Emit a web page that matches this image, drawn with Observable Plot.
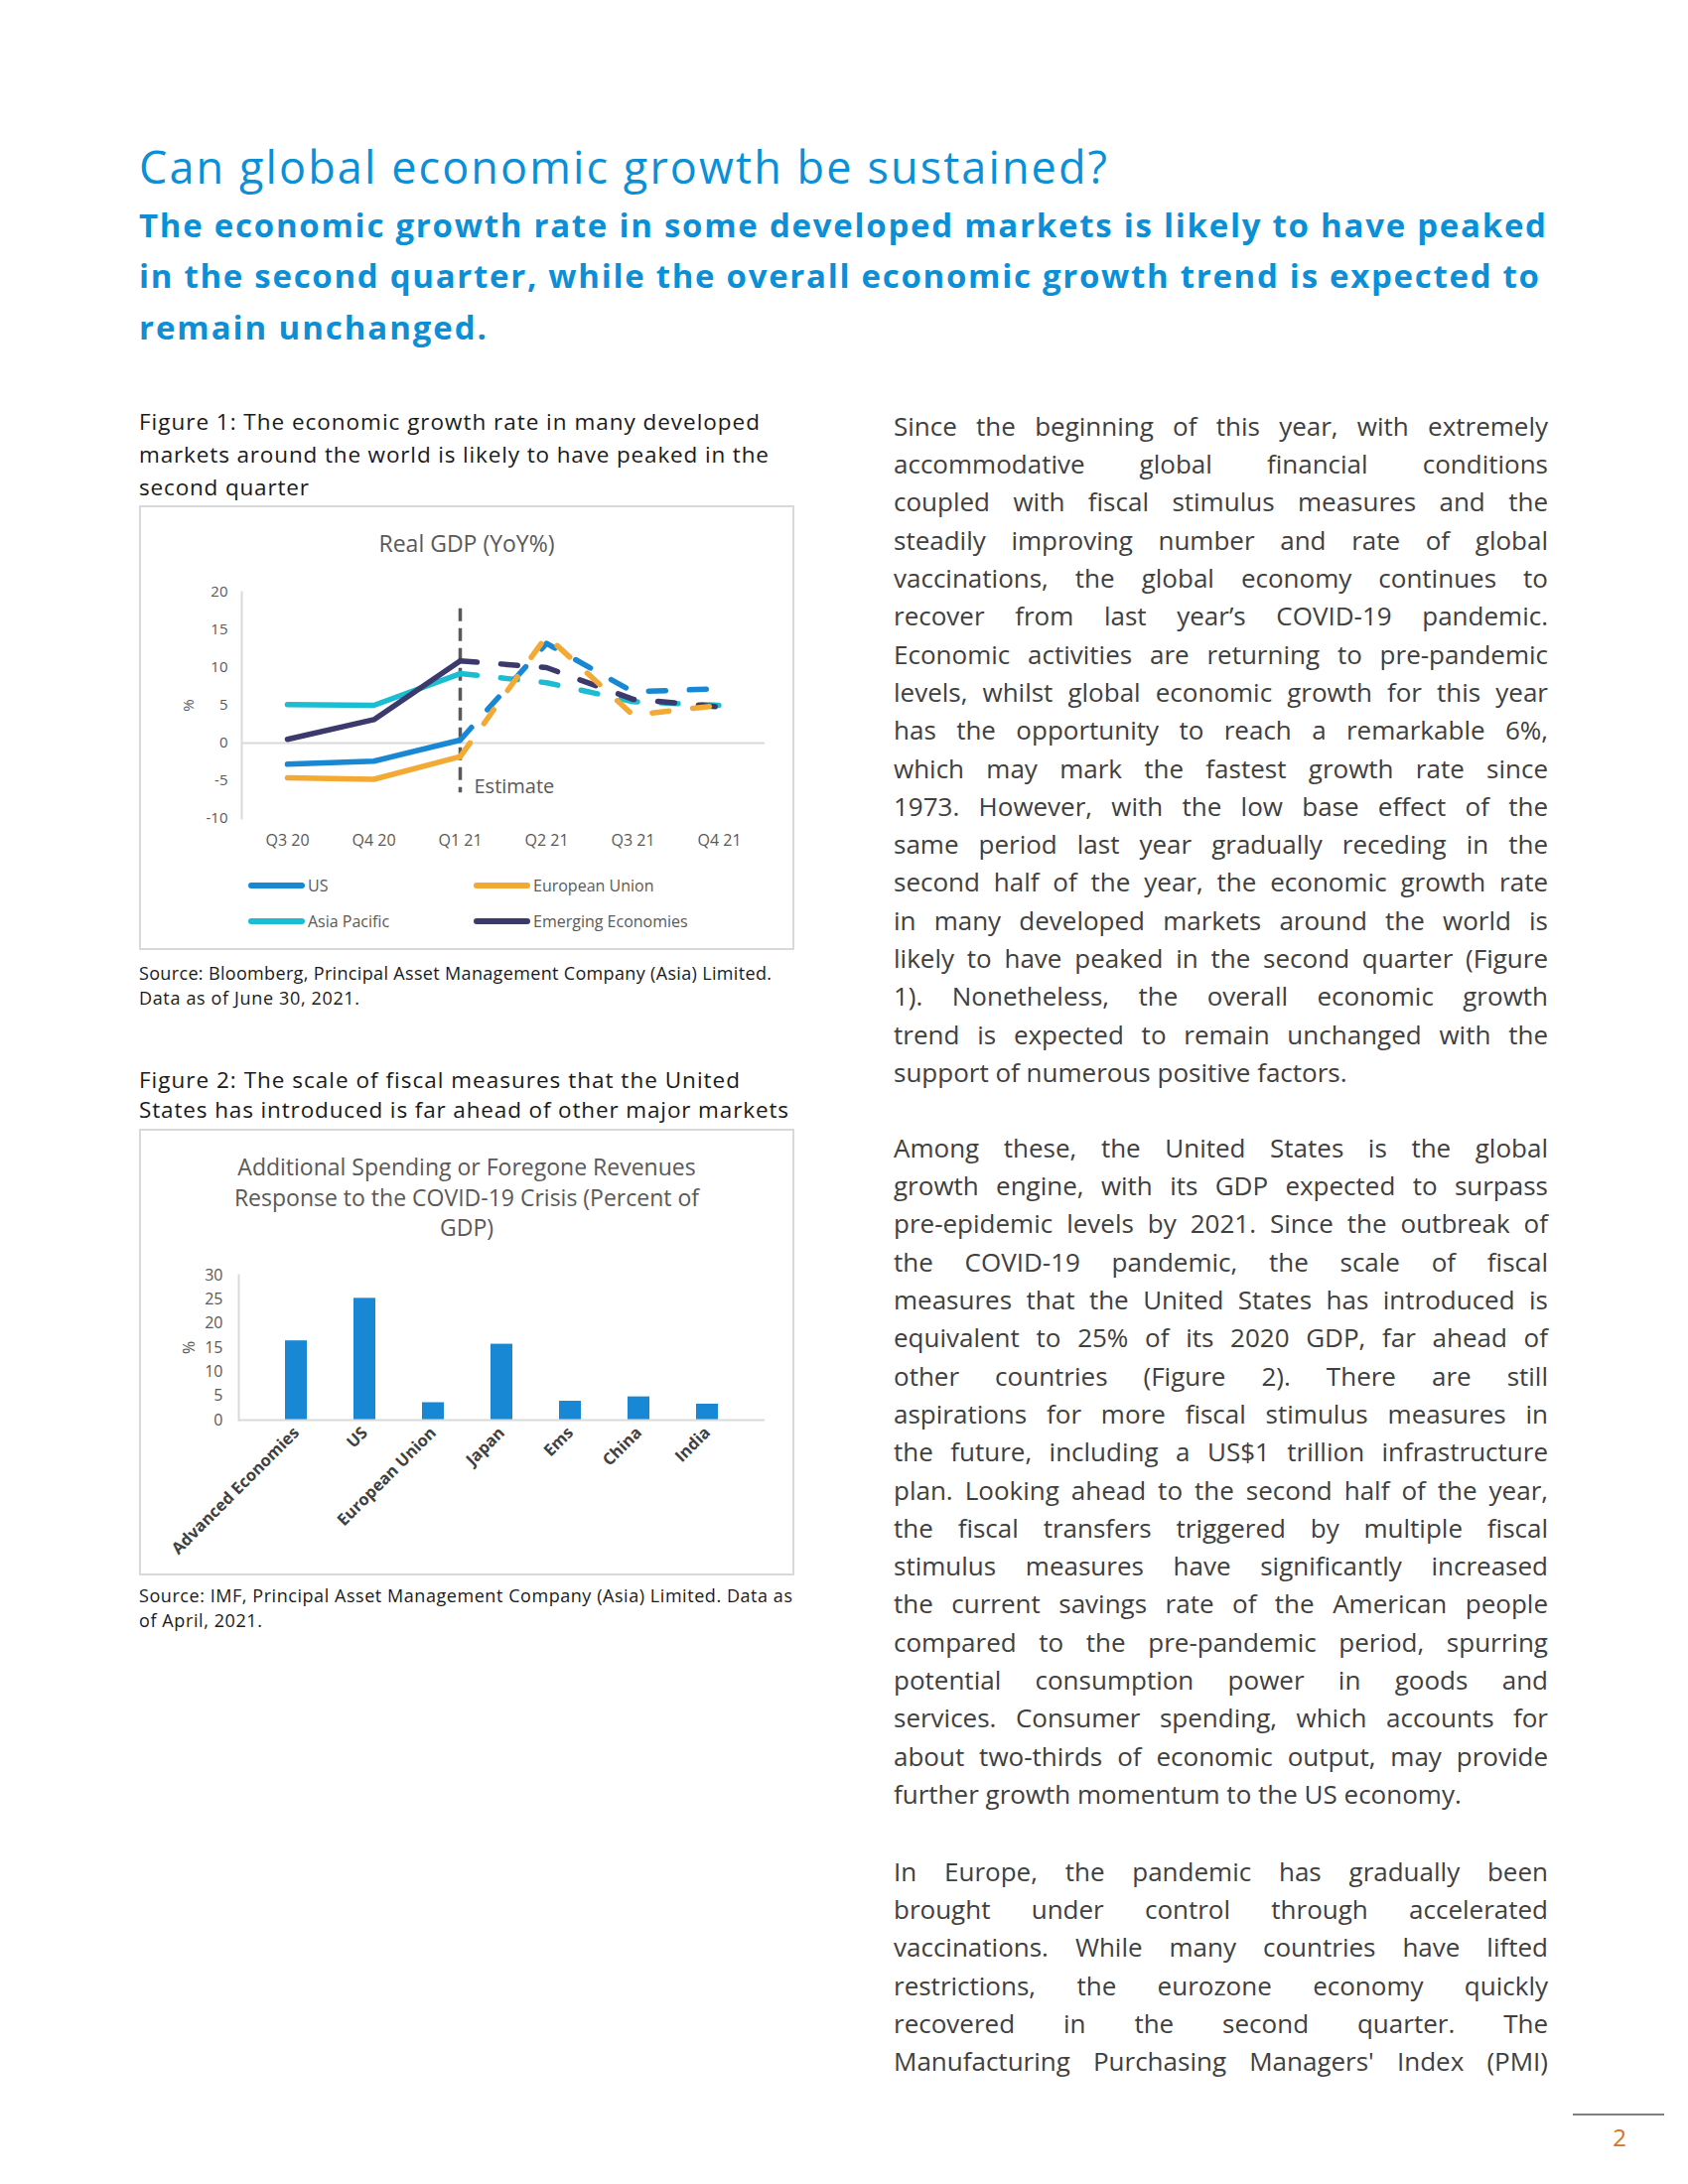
<!DOCTYPE html>
<html>
<head>
<meta charset="utf-8">
<script src="https://cdn.jsdelivr.net/npm/d3@7"></script>
<script src="https://cdn.jsdelivr.net/npm/@observablehq/plot@0.6"></script>
<style>
  html, body { margin: 0; padding: 0; background: #fff; }
  #page { position: relative; width: 1700px; height: 2200px; overflow: hidden; background: #fff; }
  .box { position: absolute; border: 2px solid #d9d9d9; box-sizing: border-box; }
  .chart { position: absolute; }
  .sw { position: absolute; height: 6px; border-radius: 3px; }
</style>
</head>
<body>
<div id="page"></div>
<script>
// ---------------- DATA ----------------
const quarters = ["Q3 20", "Q4 20", "Q1 21", "Q2 21", "Q3 21", "Q4 21"];
const seriesNames = ["US", "European Union", "Asia Pacific", "Emerging Economies"];
const seriesColors = ["#1888d4", "#f3aa35", "#1bbdd2", "#3c3a6c"];
const usGDP = [-2.8, -2.4, 0.4, 13.2, 6.8, 7.2];
const euGDP = [-4.6, -4.8, -1.8, 14.2, 3.7, 5.0];
const apGDP = [5.1, 5.0, 9.2, 8.0, 5.5, 5.0];
const emGDP = [0.5, 3.1, 10.9, 10.0, 5.8, 4.8];
const actualQuarters = ["Q3 20", "Q4 20", "Q1 21"];
const estimateQuarters = ["Q1 21", "Q2 21", "Q3 21", "Q4 21"];
const estimateMarker = "Q1 21";
const estimateRuleRange = [17.8, -6.6];
const estimateLabel = "Estimate";
const estimateLabelValue = -5.8;
const gdpTicks = [-10, -5, 0, 5, 10, 15, 20];

const fiscalCategories = ["Advanced Economies", "US", "European Union", "Japan", "Ems", "China", "India"];
const fiscalValues = [16.4, 25.2, 3.6, 15.7, 3.9, 4.8, 3.3];
const fiscalTicks = [0, 5, 10, 15, 20, 25, 30];

// ---------------- TEXT ----------------
const headline = "Can global economic growth be sustained?";
const subLines = [
  "The economic growth rate in some developed markets is likely to have peaked",
  "in the second quarter, while the overall economic growth trend is expected to",
  "remain unchanged."
];
const fig1Caption = [
  "Figure 1: The economic growth rate in many developed",
  "markets around the world is likely to have peaked in the",
  "second quarter"
];
const fig1Title = "Real GDP (YoY%)";
const fig1Source = [
  "Source: Bloomberg, Principal Asset Management Company (Asia) Limited.",
  "Data as of June 30, 2021."
];
const fig2Caption = [
  "Figure 2: The scale of fiscal measures that the United",
  "States has introduced is far ahead of other major markets"
];
const fig2Title = [
  "Additional Spending or Foregone Revenues",
  "Response to the COVID-19 Crisis (Percent of",
  "GDP)"
];
const fig2Source = [
  "Source: IMF, Principal Asset Management Company (Asia) Limited. Data as",
  "of April, 2021."
];
const para1 = [
  "Since the beginning of this year, with extremely",
  "accommodative global financial conditions",
  "coupled with fiscal stimulus measures and the",
  "steadily improving number and rate of global",
  "vaccinations, the global economy continues to",
  "recover from last year\u2019s COVID-19 pandemic.",
  "Economic activities are returning to pre-pandemic",
  "levels, whilst global economic growth for this year",
  "has the opportunity to reach a remarkable 6%,",
  "which may mark the fastest growth rate since",
  "1973. However, with the low base effect of the",
  "same period last year gradually receding in the",
  "second half of the year, the economic growth rate",
  "in many developed markets around the world is",
  "likely to have peaked in the second quarter (Figure",
  "1). Nonetheless, the overall economic growth",
  "trend is expected to remain unchanged with the",
  "support of numerous positive factors."
];
const para2 = [
  "Among these, the United States is the global",
  "growth engine, with its GDP expected to surpass",
  "pre-epidemic levels by 2021. Since the outbreak of",
  "the COVID-19 pandemic, the scale of fiscal",
  "measures that the United States has introduced is",
  "equivalent to 25% of its 2020 GDP, far ahead of",
  "other countries (Figure 2). There are still",
  "aspirations for more fiscal stimulus measures in",
  "the future, including a US$1 trillion infrastructure",
  "plan. Looking ahead to the second half of the year,",
  "the fiscal transfers triggered by multiple fiscal",
  "stimulus measures have significantly increased",
  "the current savings rate of the American people",
  "compared to the pre-pandemic period, spurring",
  "potential consumption power in goods and",
  "services. Consumer spending, which accounts for",
  "about two-thirds of economic output, may provide",
  "further growth momentum to the US economy."
];
const para3 = [
  "In Europe, the pandemic has gradually been",
  "brought under control through accelerated",
  "vaccinations. While many countries have lifted",
  "restrictions, the eurozone economy quickly",
  "recovered in the second quarter. The",
  "Manufacturing Purchasing Managers' Index (PMI)"
];
const pageNumber = "2";

// ---------------- LAYOUT HELPERS ----------------
const FONT = "'Open Sans', 'Noto Sans', sans-serif";
const page = document.getElementById("page");
const meas = document.createElement("span");
meas.style.cssText = "position:absolute;visibility:hidden;white-space:nowrap;left:0;top:0;";
page.appendChild(meas);
function measure(text, size, weight) {
  meas.style.fontFamily = FONT;
  meas.style.fontSize = size + "px";
  meas.style.fontWeight = weight;
  meas.textContent = text;
  return meas.getBoundingClientRect().width;
}
function textLine(str, o) {
  const d = document.createElement("div");
  const L = o.lh || Math.round(o.size * 1.4);
  d.style.position = "absolute";
  d.style.fontFamily = FONT;
  d.style.fontSize = o.size + "px";
  d.style.fontWeight = o.weight || 400;
  d.style.lineHeight = L + "px";
  d.style.color = o.color || "#1a1a1a";
  d.style.whiteSpace = "nowrap";
  d.style.top = (o.cy - L / 2) + "px";
  if (o.center) {
    d.style.left = (o.x - 400) + "px";
    d.style.width = "800px";
    d.style.textAlign = "center";
  } else {
    d.style.left = o.x + "px";
  }
  d.textContent = str;
  page.appendChild(d);
  if (o.fit) {
    const nat = measure(str, o.size, o.weight || 400);
    d.style.letterSpacing = ((o.fit - nat) / Math.max(1, str.length - 1)).toFixed(3) + "px";
  }
  return d;
}
const BODY = { x: 900, w: 659, size: 26, lh: 38.3, color: "#404040" };
function paragraph(lines, firstCy, justifyLast) {
  lines.forEach((ln, i) => {
    const d = document.createElement("div");
    d.style.position = "absolute";
    d.style.left = BODY.x + "px";
    d.style.width = BODY.w + "px";
    d.style.fontFamily = FONT;
    d.style.fontSize = BODY.size + "px";
    d.style.lineHeight = BODY.lh + "px";
    d.style.color = BODY.color;
    d.style.whiteSpace = "nowrap";
    d.style.top = (firstCy + i * BODY.lh - BODY.lh / 2) + "px";
    d.style.textAlign = "justify";
    const last = i === lines.length - 1;
    d.style.textAlignLast = (!last || justifyLast) ? "justify" : "left";
    const nat = measure(ln, BODY.size, 400);
    if (nat > BODY.w - 1) {
      d.style.letterSpacing = ((BODY.w - 2 - nat) / ln.length).toFixed(3) + "px";
    }
    d.textContent = ln;
    page.appendChild(d);
  });
}

// ---------------- HEADINGS ----------------
const BLUE = "#0b8fd6";
textLine(headline, { x: 140, cy: 168, size: 45, weight: 400, color: BLUE, fit: 975, lh: 56 });
[227, 278, 330].forEach((cy, i) => {
  textLine(subLines[i], { x: 140, cy, size: 33, weight: 700, color: BLUE, fit: [1417, 1410, 350][i], lh: 46 });
});

// ---------------- FIGURE 1 ----------------
[425, 458, 491].forEach((cy, i) =>
  textLine(fig1Caption[i], { x: 140, cy, size: 22.5, color: "#1a1a1a", fit: [625, 634, 171][i], lh: 30 }));
const box1 = document.createElement("div");
box1.className = "box";
Object.assign(box1.style, { left: "140px", top: "509px", width: "660px", height: "448px" });
page.appendChild(box1);
textLine(fig1Title, { x: 470, cy: 547, size: 23, color: "#595959", center: true, lh: 30 });

const gdpSeries = [usGDP, euGDP, apGDP, emGDP];
const gdpRows = [];
seriesNames.forEach((s, i) => quarters.forEach((q, j) => gdpRows.push({ series: s, quarter: q, value: gdpSeries[i][j] })));
const drawOrder = ["Asia Pacific", "Emerging Economies", "US", "European Union"];
gdpRows.sort((a, b) => drawOrder.indexOf(a.series) - drawOrder.indexOf(b.series));
const solidRows = gdpRows.filter(d => actualQuarters.includes(d.quarter));
const dashRows = gdpRows.filter(d => estimateQuarters.includes(d.quarter));

const chart1 = Plot.plot({
  width: 660, height: 300,
  marginLeft: 103, marginRight: 30, marginTop: 26, marginBottom: 46,
  style: { fontFamily: FONT, fontSize: "15px", color: "#595959", background: "transparent", overflow: "visible" },
  x: { type: "point", domain: quarters, padding: 0.5 },
  y: { domain: [-10, 20] },
  color: { domain: seriesNames, range: seriesColors },
  marks: [
    Plot.frame({ anchor: "left", stroke: "#d9d9d9", strokeWidth: 2 }),
    Plot.ruleY([0], { stroke: "#d9d9d9", strokeWidth: 2 }),
    Plot.axisY({ ticks: gdpTicks, tickFormat: d => String(d), tickSize: 0, tickPadding: 14, fontSize: 15, fill: "#595959",
      label: "%", labelAnchor: "center", labelArrow: "none", labelOffset: 59 }),
    Plot.axisX({ tickSize: 0, tickPadding: 16, fontSize: 16, fill: "#595959", label: null }),
    Plot.ruleX([estimateMarker], { y1: estimateRuleRange[0], y2: estimateRuleRange[1], stroke: "#595959", strokeWidth: 3.5, strokeDasharray: "13,7" }),
    Plot.line(solidRows, { x: "quarter", y: "value", z: "series", stroke: "series", strokeWidth: 5.5, strokeLinecap: "round", strokeLinejoin: "round" }),
    Plot.line(dashRows, { x: "quarter", y: "value", z: "series", stroke: "series", strokeWidth: 5.5, strokeLinecap: "round", strokeLinejoin: "round", strokeDasharray: "17,24" }),
    Plot.text([estimateLabel], { x: () => estimateMarker, y: () => estimateLabelValue, text: d => d, textAnchor: "start", dx: 14, fontSize: 20, fill: "#595959" })
  ]
});
chart1.classList.add("chart");
Object.assign(chart1.style, { left: "140px", top: "570px" });
page.appendChild(chart1);

// legend (HTML)
const legendPos = [
  { sw: 250, tx: 310, cy: 892 },
  { sw: 477, tx: 537, cy: 892 },
  { sw: 250, tx: 310, cy: 928 },
  { sw: 477, tx: 537, cy: 928 }
];
seriesNames.forEach((s, i) => {
  const p = legendPos[i];
  const sw = document.createElement("div");
  sw.className = "sw";
  Object.assign(sw.style, { left: p.sw + "px", top: (p.cy - 3) + "px", width: "57px", background: seriesColors[i] });
  page.appendChild(sw);
  textLine(s, { x: p.tx, cy: p.cy, size: 16, color: "#595959", lh: 20 });
});

[980, 1005].forEach((cy, i) =>
  textLine(fig1Source[i], { x: 140, cy, size: 18, color: "#1a1a1a", fit: [637, 222][i], lh: 24 }));

// ---------------- FIGURE 2 ----------------
[1088, 1118].forEach((cy, i) =>
  textLine(fig2Caption[i], { x: 140, cy, size: 22.5, color: "#1a1a1a", fit: [605, 654][i], lh: 30 }));
const box2 = document.createElement("div");
box2.className = "box";
Object.assign(box2.style, { left: "140px", top: "1137px", width: "660px", height: "450px" });
page.appendChild(box2);
[1175, 1205.5, 1236].forEach((cy, i) =>
  textLine(fig2Title[i], { x: 470, cy, size: 23, color: "#595959", center: true, lh: 30 }));

const fiscalRows = fiscalCategories.map((c, i) => ({ category: c, value: fiscalValues[i] }));
const chart2 = Plot.plot({
  width: 660, height: 310,
  marginLeft: 100, marginRight: 30, marginTop: 14, marginBottom: 150,
  style: { fontFamily: FONT, fontSize: "15px", color: "#595959", background: "transparent", overflow: "visible" },
  x: { type: "band", domain: fiscalCategories, padding: 0.68 },
  y: { domain: [0, 30] },
  marks: [
    Plot.frame({ anchor: "left", stroke: "#d9d9d9", strokeWidth: 2 }),
    Plot.barY(fiscalRows, { x: "category", y: "value", fill: "#1888d4" }),
    Plot.ruleY([0], { stroke: "#d9d9d9", strokeWidth: 2 }),
    Plot.axisY({ ticks: fiscalTicks, tickSize: 0, tickPadding: 16, fontSize: 16, fill: "#595959",
      label: "%", labelAnchor: "center", labelArrow: "none", labelOffset: 56 }),
    Plot.axisX({ tickSize: 0, tickPadding: 10, tickRotate: -45, fontSize: 16.5, fontWeight: "bold", fill: "#404040", label: null })
  ]
});
chart2.classList.add("chart");
Object.assign(chart2.style, { left: "140px", top: "1270px" });
page.appendChild(chart2);

[1607, 1632].forEach((cy, i) =>
  textLine(fig2Source[i], { x: 140, cy, size: 18, color: "#1a1a1a", fit: [658, 124][i], lh: 24 }));

// ---------------- BODY TEXT ----------------
paragraph(para1, 429, false);
paragraph(para2, 1156, false);
paragraph(para3, 1885, true);

// ---------------- FOOTER ----------------
const rule = document.createElement("div");
Object.assign(rule.style, { position: "absolute", left: "1584px", top: "2129px", width: "92px", height: "2px", background: "#7f7f7f" });
page.appendChild(rule);
textLine(pageNumber, { x: 1631, cy: 2153, size: 24, color: "#e07020", center: true, lh: 30 });
</script>
</body>
</html>
